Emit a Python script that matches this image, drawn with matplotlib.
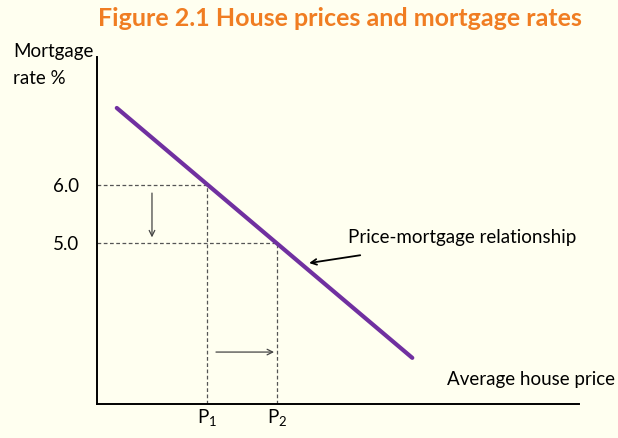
import matplotlib.pyplot as plt

plt.rcParams['font.family'] = ['Lato', 'DejaVu Sans']
plt.rcParams['mathtext.fontset'] = 'custom'
plt.rcParams['mathtext.rm'] = 'Lato'

# price-mortgage line (x = average house price, arbitrary units; y = rate %)
line_x = [4.1, 65.4]
line_y = [7.33, 3.02]

rates = [6.0, 5.0]
prices = [22.8, 37.3]
price_labels = [r'$\mathrm{P}_1$', r'$\mathrm{P}_2$']

bg = '#FFFFF0'
purple = '#7030A0'
orange = '#F07D22'

fig = plt.figure(figsize=(6.18, 4.38), dpi=100, facecolor=bg)
ax = fig.add_axes([0.157, 0.0776, 0.780, 0.792])
ax.set_facecolor(bg)
ax.set_xlim(0, 100)
ax.set_ylim(2.224, 8.207)

for s in ['top', 'right']:
    ax.spines[s].set_visible(False)
for s in ['left', 'bottom']:
    ax.spines[s].set_linewidth(1.4)

ax.plot(line_x, line_y, color=purple, lw=3, solid_capstyle='round', zorder=3)

# dashed guides
for r, p in zip(rates, prices):
    ax.plot([0, p], [r, r], ls=(0, (3, 2)), color='#555555', lw=0.9)
    ax.plot([p, p], [ax.get_ylim()[0], r], ls=(0, (3, 2)), color='#555555', lw=0.9)

# shift arrows
ax.annotate('', xy=(11.4, 5.05), xytext=(11.4, 5.91),
            arrowprops=dict(arrowstyle='->', color='#444444', lw=0.9))
ax.annotate('', xy=(prices[1], 3.12), xytext=(24.1, 3.12),
            arrowprops=dict(arrowstyle='->', color='#444444', lw=0.9))

# relationship label
ax.text(52.1, 5.09, 'Price-mortgage relationship', fontsize=13.5, va='center', ha='left')
ax.annotate('', xy=(44.0, 4.655), xytext=(54.6, 4.79),
            arrowprops=dict(arrowstyle='->', color='black', lw=1.3,
                            shrinkA=0, shrinkB=0))

ax.set_yticks(rates)
ax.set_yticklabels(['%.1f' % r for r in rates], fontsize=13.5)
ax.set_xticks(prices)
ax.set_xticklabels(price_labels, fontsize=13.5)
ax.tick_params(length=0, pad=13)
ax.tick_params(axis='x', pad=3)

ax.text(72.5, 2.64, 'Average house price', fontsize=13.5, va='center', ha='left')
fig.text(13 / 618, 1 - 52 / 438, 'Mortgage', fontsize=13.5, va='center', ha='left')
fig.text(13 / 618, 1 - 78 / 438, 'rate %', fontsize=13.5, va='center', ha='left')

fig.text(340 / 618, 1 - 18 / 438, 'Figure 2.1 House prices and mortgage rates',
         fontsize=18, fontweight='bold', color=orange, ha='center', va='center')

fig.savefig('out.png', dpi=100, facecolor=bg)
